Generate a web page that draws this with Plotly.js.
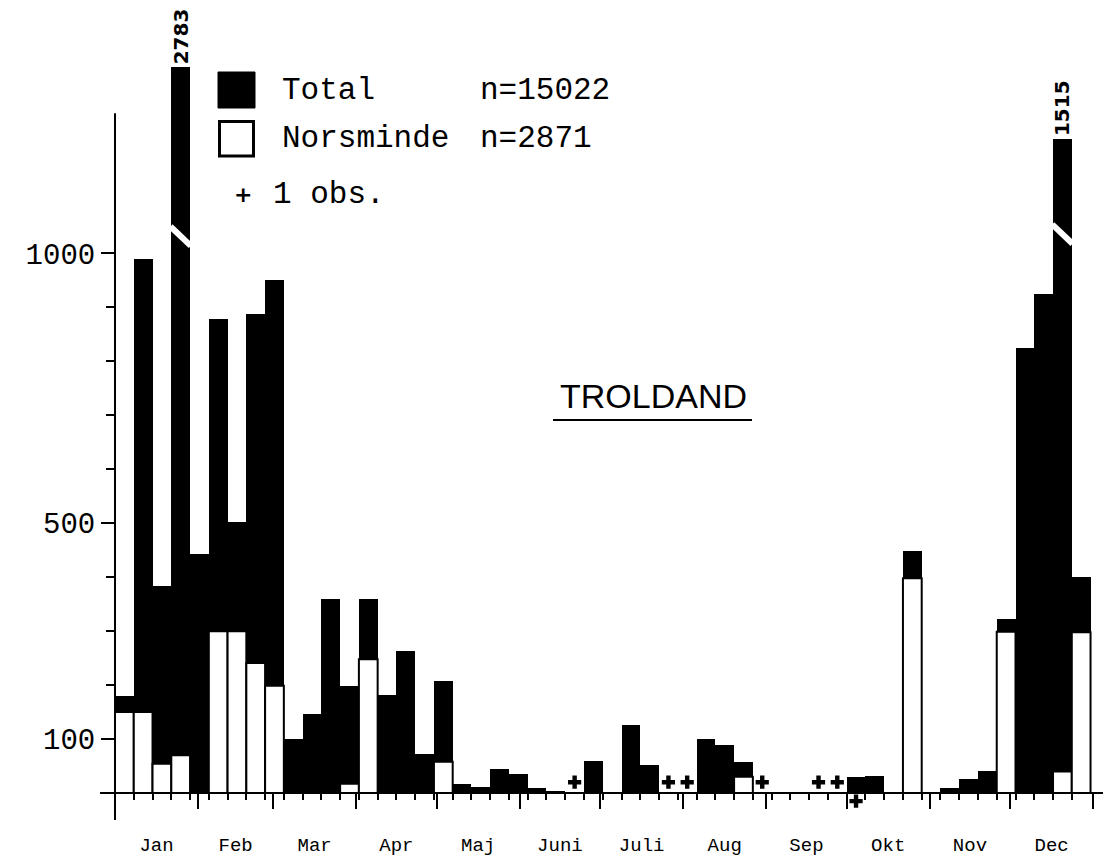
<!DOCTYPE html>
<html><head><meta charset="utf-8">
<script src="https://cdn.plot.ly/plotly-3.0.1.min.js"></script>
<style>html,body{margin:0;padding:0;background:#fff}</style>
</head><body>
<div id="chart" style="width:1109px;height:863px"></div>
<script>
// ---- data ----
const monthNames = ['Jan','Feb','Mar','Apr','Maj','Juni','Juli','Aug','Sep','Okt','Nov','Dec'];
const monthDays = [31,28,31,30,31,30,31,31,30,31,30,31];
const weekIndex = [0,1,2,3,4,5,6,7,8,9,10,11,12,13,14,15,16,17,18,19,20,21,22,23,24,25,
                   26,27,28,29,30,31,32,33,34,35,36,37,38,39,40,41,42,43,44,45,46,47,48,49,50,51];
const totalCounts = [180,990,384,2783,443,879,502,888,951,
                     100,146,359,199,359,181,263,72,208,
                     17,12,44,35,10,4,0,59,0,126,51,0,0,100,89,57,0,0,0,0,0,30,32,0,
                     449,0,10,26,41,322,824,925,1515,400];
const norsmindeCounts = [150,150,54,70,0,300,300,241,199,
                         0,0,0,17,248,0,0,0,58,
                         0,0,0,0,0,0,0,0,0,0,0,0,0,0,0,30,0,0,0,0,0,0,0,0,
                         398,0,0,0,0,299,0,0,40,298];
const singleObsTotalWeeks = [24,29,30,34,37,38];
const singleObsNorsmindeWeeks = [39];
const brokenWeeks = [3,50];
const brokenDrawnHeight = [1345,1212];   // truncated height at which the broken bars are drawn
const brokenBreakAt = [1032,1036];
const yMajorTicks = [100,500,1000];
const yMinorTicks = [200,300,400,600,700,800,900];
const legendLabels = ['Total','Norsminde'];
const legendN = [15022,2871];
const speciesName = 'TROLDAND';

// ---- geometry helpers ----
const W = 1109, H = 863;
const ML = 100, MR = 6, MT = 38, MB = 42;
const PW = W - ML - MR, PH = H - MT - MB;
const XR = [-5.6, 368.65], YR = [-51.9, 1399.4];
const px2paperX = p => (p - ML) / PW;
const px2paperY = p => (H - MB - p) / PH;
const DAYS_PER_WEEK = 7;
const PLUS_Y = 20, PLUS_Y_BELOW = -15;

const weekCenter = weekIndex.map(k => k*DAYS_PER_WEEK + DAYS_PER_WEEK/2);
const monthStart = [0]; monthDays.forEach((d,i)=>monthStart.push(monthStart[i]+d));
const monthMid = monthDays.map((d,i)=>monthStart[i] + d/2);

const totalDrawn = totalCounts.map((v,k)=>{
  const b = brokenWeeks.indexOf(k);
  if (b >= 0) return brokenDrawnHeight[b];
  return v > 0 ? v : null;
});
const totalText = totalCounts.map((v,k)=> brokenWeeks.indexOf(k) >= 0 ? String(v) : '');
const norsDrawn = norsmindeCounts.map(v => v > 0 ? v : null);

const MONO = 'Liberation Mono';
const traces = [
  {type:'bar', name:'Total', x:weekCenter, y:totalDrawn, width:DAYS_PER_WEEK,
   marker:{color:'#000', line:{width:0}}, text:totalText, textposition:'outside',
   textangle:-90, cliponaxis:false, constraintext:'none',
   textfont:{family:'DejaVu Sans', size:20, color:'#000', weight:'bold'}, hoverinfo:'skip'},
  {type:'bar', name:'Norsminde', x:weekCenter, y:norsDrawn, width:DAYS_PER_WEEK,
   marker:{color:'#fff', line:{color:'#000', width:2}}, hoverinfo:'skip'},
  {type:'scatter', mode:'markers', name:'1 obs.', xaxis:'x2',
   x:singleObsTotalWeeks.map(k=>weekCenter[k]), y:singleObsTotalWeeks.map(()=>PLUS_Y),
   marker:{symbol:'cross', size:11, color:'#000', line:{width:0}}, cliponaxis:false, hoverinfo:'skip'},
  {type:'scatter', mode:'markers', name:'1 obs. Norsminde', xaxis:'x2',
   x:singleObsNorsmindeWeeks.map(k=>weekCenter[k]), y:singleObsNorsmindeWeeks.map(()=>PLUS_Y_BELOW),
   marker:{symbol:'cross', size:11, color:'#000', line:{width:0}}, cliponaxis:false, hoverinfo:'skip'}
];

const shapes = [];
shapes.push({type:'line', xref:'x', yref:'y', x0:0, x1:0, y0:-50, y1:1260, line:{color:'#000', width:2}});
brokenWeeks.forEach((k,i)=>{
  const x0 = k*DAYS_PER_WEEK - 0.3, x1 = (k+1)*DAYS_PER_WEEK + 0.3;
  shapes.push({type:'line', xref:'x', yref:'y', x0:x0, x1:x1,
    y0:brokenBreakAt[i]+18, y1:brokenBreakAt[i]-18, line:{color:'#fff', width:6}});
});
shapes.push({type:'rect', xref:'paper', yref:'paper', x0:px2paperX(218), x1:px2paperX(255),
  y0:px2paperY(108), y1:px2paperY(72), fillcolor:'#000', line:{color:'#000', width:1}});
shapes.push({type:'rect', xref:'paper', yref:'paper', x0:px2paperX(219.5), x1:px2paperX(253.5),
  y0:px2paperY(156), y1:px2paperY(121.5), fillcolor:'#fff', line:{color:'#000', width:3}});
shapes.push({type:'line', xref:'paper', yref:'paper', x0:px2paperX(553), x1:px2paperX(752),
  y0:px2paperY(420), y1:px2paperY(420), line:{color:'#000', width:2}});

const legFont = {family:MONO, size:31, color:'#000'};
const annotations = [
  {xref:'paper', yref:'paper', x:px2paperX(280), y:px2paperY(90), xanchor:'left', yanchor:'middle',
   text:legendLabels[0], showarrow:false, font:legFont},
  {xref:'paper', yref:'paper', x:px2paperX(478), y:px2paperY(90), xanchor:'left', yanchor:'middle',
   text:'n=' + legendN[0], showarrow:false, font:legFont},
  {xref:'paper', yref:'paper', x:px2paperX(280), y:px2paperY(138), xanchor:'left', yanchor:'middle',
   text:legendLabels[1], showarrow:false, font:legFont},
  {xref:'paper', yref:'paper', x:px2paperX(478), y:px2paperY(138), xanchor:'left', yanchor:'middle',
   text:'n=' + legendN[1], showarrow:false, font:legFont},
  {xref:'paper', yref:'paper', x:px2paperX(232), y:px2paperY(194), xanchor:'left', yanchor:'middle',
   text:'<b>+</b>', showarrow:false, font:{family:'DejaVu Sans', size:22, color:'#000'}},
  {xref:'paper', yref:'paper', x:px2paperX(271), y:px2paperY(194), xanchor:'left', yanchor:'middle',
   text:'1 obs.', showarrow:false, font:legFont},
  {xref:'paper', yref:'paper', x:px2paperX(653), y:px2paperY(396), xanchor:'center', yanchor:'middle',
   text:speciesName, showarrow:false, font:{family:'Liberation Sans', size:34, color:'#000'}}
];

const layout = {
  width:W, height:H, margin:{l:ML, r:MR, t:MT, b:MB},
  paper_bgcolor:'#fff', plot_bgcolor:'#fff', showlegend:false,
  barmode:'overlay', bargap:0,
  xaxis:{range:XR, anchor:'free', position:(0-YR[0])/(YR[1]-YR[0]),
    showline:true, linecolor:'#000', linewidth:2, showgrid:false, zeroline:false,
    tickmode:'array', tickvals:monthStart, ticks:'outside', ticklen:15, tickwidth:2, tickcolor:'#000',
    showticklabels:false,
    minor:{tickmode:'array', tickvals:weekIndex.map(k=>k*DAYS_PER_WEEK), ticks:'outside', ticklen:6, tickwidth:2, tickcolor:'#000', showgrid:false}},
  xaxis2:{range:XR, overlaying:'x', anchor:'free', position:0, showline:false, showgrid:false, zeroline:false,
    tickmode:'array', tickvals:monthMid, ticktext:monthNames, ticks:'outside', ticklen:6,
    tickcolor:'rgba(0,0,0,0)', tickfont:{family:MONO, size:19, color:'#000'}},
  yaxis:{range:YR, anchor:'free', position:(0-XR[0])/(XR[1]-XR[0]),
    showline:false, showgrid:false, zeroline:false,
    tickmode:'array', tickvals:yMajorTicks, ticktext:yMajorTicks.map(String),
    ticks:'outside', ticklen:14, tickwidth:2, tickcolor:'#000',
    tickfont:{family:MONO, size:29, color:'#000'},
    minor:{tickmode:'array', tickvals:yMinorTicks, ticks:'outside', ticklen:9, tickwidth:2, tickcolor:'#000', showgrid:false}},
  shapes:shapes, annotations:annotations
};

Plotly.newPlot('chart', traces, layout, {staticPlot:true, displayModeBar:false});
</script>
</body></html>
